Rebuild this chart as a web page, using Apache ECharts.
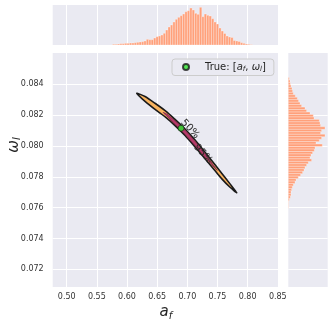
<!DOCTYPE html>
<html><head><meta charset="utf-8">
<script src="https://cdn.jsdelivr.net/npm/echarts@6/dist/echarts.min.js"></script>
<style>html,body{margin:0;padding:0;background:#fff}#c{width:333px;height:324px}</style>
</head><body><div id="c"></div>
<script>
const xTicks = [0.50, 0.55, 0.60, 0.65, 0.70, 0.75, 0.80, 0.85];
const yTicks = [0.072, 0.074, 0.076, 0.078, 0.080, 0.082, 0.084];
const xRange = [0.4768, 0.852];
const yRange = [0.07085, 0.08603];
const trueParams = [[0.6896, 0.08115]];
const contour95 = [
  [0.6161,0.08342],[0.6299,0.08321],[0.6465,0.08277],[0.6659,0.08221],[0.6796,0.08172],
  [0.6962,0.08110],[0.7128,0.08038],[0.7294,0.07959],[0.7460,0.07878],[0.7576,0.07819],
  [0.7708,0.07754],[0.7819,0.07697],[0.7708,0.07732],[0.7576,0.07785],[0.7460,0.07839],
  [0.7294,0.07917],[0.7128,0.07994],[0.6962,0.08068],[0.6796,0.08132],[0.6659,0.08181],
  [0.6465,0.08237],[0.6299,0.08289]
];
const contour50 = [
  [0.6600,0.08217],[0.6659,0.08207],[0.6796,0.08163],[0.6962,0.08102],[0.7128,0.08029],
  [0.7294,0.07948],[0.7493,0.07842],[0.7294,0.07928],[0.7128,0.08003],[0.6962,0.08076],
  [0.6796,0.08141],[0.6659,0.08195]
];
const contourLabels = [[0.7045, 0.0811, '50%'], [0.7261, 0.07948, '95%']];
const topBinStart = 0.576, topBinWidth = 0.004;
const topCounts = [7,7,10,13,13,17,17,20,20,23,27,30,33,40,57,53,53,70,83,90,100,117,150,180,200,230,257,277,293,310,333,343,370,350,317,307,377,283,310,297,290,263,230,210,170,140,115,90,80,75,45,40,35,23,17,10,7,3];
const rightBinTop = 0.08444, rightBinWidth = 0.00016;
const rightCounts = [10,17,20,27,37,43,50,70,90,103,117,133,167,183,217,250,257,310,317,323,367,333,323,367,333,310,277,340,267,260,243,227,217,233,200,183,167,157,143,123,100,77,67,50,40,33,27,27,20,10,3,3,3];

const FONT = 'DejaVu Sans';
const HIST = '#ffa07a';
const chart = echarts.init(document.getElementById('c'), null, {renderer: 'canvas'});

const topData = topCounts.map((c, i) => [topBinStart + i * topBinWidth, topBinStart + (i + 1) * topBinWidth, c]);
const rightData = rightCounts.map((c, k) => [c, rightBinTop - (k + 1) * rightBinWidth, rightBinTop - k * rightBinWidth]);

function polyRender(points, fill, stroke, lw) {
  return function (params, api) {
    if (params.dataIndex !== 0) return null;
    return {
      type: 'polygon',
      shape: {points: points.map(p => api.coord(p)), smooth: 0.2},
      style: {fill: fill, stroke: stroke, lineWidth: lw, lineJoin: 'round'}
    };
  };
}

const gridBase = {show: true, backgroundColor: '#eaeaf2', borderWidth: 0, containLabel: false, outerBoundsMode: 'none'};
const gridLine = {show: true, lineStyle: {color: '#ffffff', width: 1}};
const option = {
  animation: false,
  textStyle: {fontFamily: FONT},
  grid: [
    Object.assign({left: 52.7, top: 53, width: 226.3, height: 234}, gridBase),
    Object.assign({left: 52.7, top: 5, width: 226.3, height: 40}, gridBase),
    Object.assign({left: 288.3, top: 53, width: 39.4, height: 234}, gridBase)
  ],
  xAxis: [
    {gridIndex: 0, type: 'value', min: xRange[0], max: xRange[1],
     axisLine: {show: false}, axisTick: {show: false, customValues: xTicks},
     axisLabel: {customValues: xTicks, formatter: v => v.toFixed(2), color: '#333', fontSize: 8, fontFamily: FONT, margin: 6},
     splitLine: gridLine,
     name: '{a|a}{s|f}', nameLocation: 'middle', nameGap: 17, nameMoveOverlap: false,
     nameTextStyle: {rich: {a: {fontSize: 15, fontStyle: 'italic', fontFamily: FONT, color: '#262626'},
                            s: {fontSize: 10, fontStyle: 'italic', fontFamily: FONT, color: '#262626', padding: [7, 0, 0, 0]}}}},
    {gridIndex: 1, type: 'value', min: xRange[0], max: xRange[1],
     axisLine: {show: false}, axisTick: {show: false, customValues: xTicks},
     axisLabel: {show: false, customValues: xTicks}, splitLine: gridLine},
    {gridIndex: 2, type: 'value', min: 0, max: 394,
     axisLine: {show: false}, axisTick: {show: false}, axisLabel: {show: false}, splitLine: {show: false}}
  ],
  yAxis: [
    {gridIndex: 0, type: 'value', min: yRange[0], max: yRange[1],
     axisLine: {show: false}, axisTick: {show: false, customValues: yTicks},
     axisLabel: {customValues: yTicks, formatter: v => v.toFixed(3), color: '#333', fontSize: 8, fontFamily: FONT, margin: 9},
     splitLine: gridLine,
     name: '{w|ω}{s|l}', nameLocation: 'middle', nameGap: 30, nameMoveOverlap: false,
     nameTextStyle: {padding: [0, 0, 0, 50],
                     rich: {w: {fontSize: 15, fontStyle: 'italic', fontFamily: FONT, color: '#262626'},
                            s: {fontSize: 10, fontStyle: 'italic', fontFamily: FONT, color: '#262626', padding: [7, 0, 0, 0]}}}},
    {gridIndex: 1, type: 'value', min: 0, max: 400,
     axisLine: {show: false}, axisTick: {show: false}, axisLabel: {show: false}, splitLine: {show: false}},
    {gridIndex: 2, type: 'value', min: yRange[0], max: yRange[1],
     axisLine: {show: false}, axisTick: {show: false, customValues: yTicks},
     axisLabel: {show: false, customValues: yTicks}, splitLine: gridLine}
  ],
  legend: {
    data: ['True'], left: 172, top: 59, orient: 'horizontal',
    itemWidth: 24, itemHeight: 6, padding: [3, 8, 3, 10],
    backgroundColor: '#eaeaf2', borderColor: '#cccccc', borderWidth: 1, borderRadius: 3,
    formatter: () => 'True: [{i|a}{s|f}, {i|ω}{s|l}]',
    textStyle: {fontFamily: FONT, fontSize: 10, color: '#262626', padding: [0, 0, 0, 2],
                rich: {i: {fontStyle: 'italic', fontSize: 10, fontFamily: FONT, color: '#262626'},
                       s: {fontStyle: 'italic', fontSize: 7, fontFamily: FONT, color: '#262626', padding: [4, 0, 0, 0]}}}
  },
  series: [
    {type: 'custom', xAxisIndex: 1, yAxisIndex: 1, data: topData, encode: {x: [0, 1], y: 2},
     renderItem: function (params, api) {
       const p0 = api.coord([api.value(0), api.value(2)]);
       const p1 = api.coord([api.value(1), 0]);
       return {type: 'rect', shape: {x: p0[0], y: p0[1], width: p1[0] - p0[0], height: p1[1] - p0[1]},
               style: {fill: HIST, stroke: '#ffffff', lineWidth: 0.3}};
     }},
    {type: 'custom', xAxisIndex: 2, yAxisIndex: 2, data: rightData, encode: {x: 0, y: [1, 2]},
     renderItem: function (params, api) {
       const p0 = api.coord([0, api.value(2)]);
       const p1 = api.coord([api.value(0), api.value(1)]);
       return {type: 'rect', shape: {x: p0[0], y: p0[1], width: p1[0] - p0[0], height: p1[1] - p0[1]},
               style: {fill: HIST, stroke: '#ffffff', lineWidth: 0.3}};
     }},
    {type: 'custom', xAxisIndex: 0, yAxisIndex: 0, data: contour95, encode: {x: 0, y: 1}, z: 3,
     renderItem: polyRender(contour95, '#f8b35f', '#1a1a1a', 1.6)},
    {type: 'custom', xAxisIndex: 0, yAxisIndex: 0, data: contour50, encode: {x: 0, y: 1}, z: 4,
     renderItem: polyRender(contour50, '#b53a6b', '#7a1f4a', 0.8)},
    {type: 'custom', xAxisIndex: 0, yAxisIndex: 0, data: contourLabels, encode: {x: 0, y: 1}, z: 5,
     renderItem: function (params, api) {
       const p = api.coord([api.value(0), api.value(1)]);
       return {type: 'text', x: p[0], y: p[1], rotation: -0.82,
               style: {text: contourLabels[params.dataIndex][2], fontSize: 10, fontFamily: FONT,
                       fill: '#2a2a2a', align: 'center', verticalAlign: 'middle'}};
     }},
    {name: 'True', type: 'scatter', xAxisIndex: 0, yAxisIndex: 0, data: trueParams, z: 6,
     symbol: 'circle', symbolSize: 6,
     itemStyle: {color: '#2ee62e', borderColor: '#1a1a1a', borderWidth: 0.8}}
  ]
};
chart.setOption(option);
</script></body></html>
